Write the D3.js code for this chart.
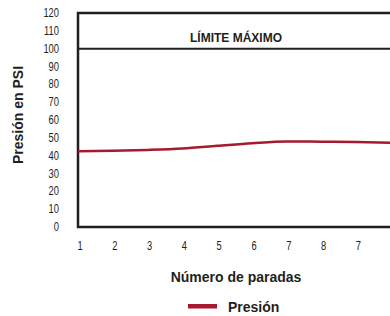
<!DOCTYPE html>
<html>
<head>
<meta charset="utf-8">
<script src="https://cdn.jsdelivr.net/npm/d3@7"></script>
<style>
  body { margin: 0; background: #fff; }
  .tick-label { font-family: "Liberation Sans Narrow", "Liberation Sans", Arial, sans-serif; font-size: 12px; fill: #231f20; }
  .bold { font-family: "Liberation Sans", Arial, sans-serif; font-weight: bold; fill: #231f20; }
</style>
</head>
<body>
<svg id="chart" width="390" height="316"></svg>
<script>
// x categories (as printed) and pressure readings
var stopLabels = ["1", "2", "3", "4", "5", "6", "7", "8", "7", ""];
var pressure = [42.5, 42.7, 43.2, 44.0, 45.5, 47.0, 48.0, 47.8, 47.6, 47.3];
var yTicks = [0, 10, 20, 30, 40, 50, 60, 70, 80, 90, 100, 110, 120];
var maxLimit = 100;

var svg = d3.select("#chart");

var params = {
  "plot": { "left": 78, "top": 13, "bottom": 227, "step": 34.8 }
};

var x = d3.scaleLinear()
  .domain([0, stopLabels.length - 1])
  .range([params.plot.left, params.plot.left + params.plot.step * (stopLabels.length - 1)]);

var y = d3.scaleLinear()
  .domain([0, 120])
  .range([params.plot.bottom, params.plot.top]);

var dark = "#231f20";
var red = "#a6192e";

// condensed look for the numbers
function narrow(tx, ty) {
  return "translate(" + tx + "," + ty + ") scale(0.78,1)";
}

// frame
var frame = svg.append("g");
frame.append("path")
  .attr("d", "M420," + y(120) + "H" + params.plot.left + "V" + y(0) + "H420")
  .attr("fill", "none")
  .attr("stroke", dark)
  .attr("stroke-width", 2.5);

frame.append("line")
  .attr("x1", params.plot.left).attr("x2", 420)
  .attr("y1", y(maxLimit)).attr("y2", y(maxLimit))
  .attr("stroke", dark)
  .attr("stroke-width", 2);

svg.append("text")
  .attr("class", "bold")
  .attr("x", 236)
  .attr("y", 42)
  .attr("text-anchor", "middle")
  .style("font-size", "12px")
  .text("LÍMITE MÁXIMO");

// y ticks
svg.append("g").selectAll("text")
  .data(yTicks)
  .enter().append("text")
  .attr("class", "tick-label")
  .attr("transform", function(d) { return narrow(59, y(d) + 4); })
  .attr("text-anchor", "end")
  .text(function(d) { return d; });

// x ticks
svg.append("g").selectAll("text")
  .data(stopLabels)
  .enter().append("text")
  .attr("class", "tick-label")
  .attr("transform", function(d, i) { return narrow(x(i) + 2, 250); })
  .attr("text-anchor", "middle")
  .text(function(d) { return d; });

// pressure line
var line = d3.line()
  .x(function(d, i) { return x(i); })
  .y(function(d) { return y(d); })
  .curve(d3.curveMonotoneX);

svg.append("path")
  .datum(pressure)
  .attr("d", line)
  .attr("fill", "none")
  .attr("stroke", red)
  .attr("stroke-width", 2.5);

// axis titles
svg.append("text")
  .attr("class", "bold")
  .attr("transform", "translate(23,115) rotate(-90)")
  .attr("text-anchor", "middle")
  .style("font-size", "14px")
  .text("Presión en PSI");

svg.append("text")
  .attr("class", "bold")
  .attr("x", 236)
  .attr("y", 282)
  .attr("text-anchor", "middle")
  .style("font-size", "14px")
  .text("Número de paradas");

// legend
svg.append("rect")
  .attr("x", 188).attr("y", 304)
  .attr("width", 29).attr("height", 4.5)
  .attr("fill", red);

svg.append("text")
  .attr("class", "bold")
  .attr("x", 228)
  .attr("y", 312)
  .style("font-size", "14px")
  .text("Presión");
</script>
</body>
</html>
